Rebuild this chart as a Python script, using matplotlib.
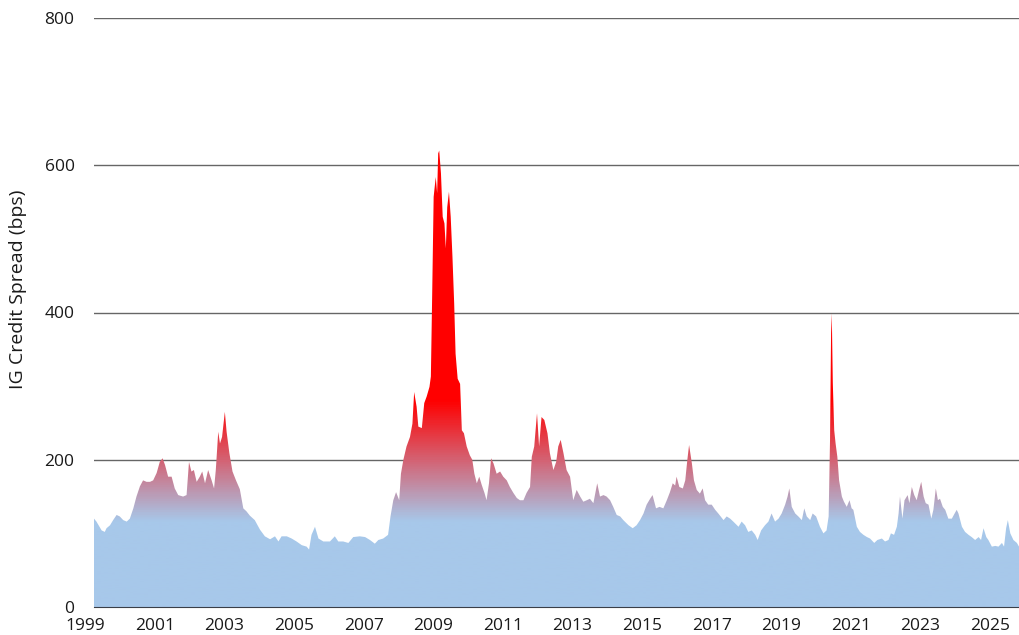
import numpy as np
import matplotlib.pyplot as plt
from matplotlib import transforms
from matplotlib.colors import LinearSegmentedColormap
from matplotlib.patches import PathPatch

plt.rcParams['font.family'] = ['Open Sans', 'DejaVu Sans']

# IG credit spread (bps)
years = [
    1999.25, 1999.32, 1999.47, 1999.56, 1999.61, 1999.71, 1999.80, 1999.90, 1999.99,
    2000.09, 2000.19, 2000.28, 2000.38, 2000.47, 2000.57, 2000.66, 2000.76, 2000.86, 2000.95,
    2001.05, 2001.14, 2001.22, 2001.29, 2001.38, 2001.48, 2001.57, 2001.67, 2001.81, 2001.91, 2001.98,
    2002.05, 2002.12, 2002.20, 2002.29, 2002.36, 2002.44, 2002.53, 2002.63, 2002.70, 2002.75, 2002.82, 2002.87, 2002.93,
    2003.01, 2003.06, 2003.14, 2003.23, 2003.33, 2003.44, 2003.54, 2003.63, 2003.73, 2003.87,
    2004.02, 2004.16, 2004.31, 2004.45, 2004.55, 2004.64, 2004.79, 2004.93,
    2005.07, 2005.22, 2005.36, 2005.43, 2005.50, 2005.60, 2005.70, 2005.84,
    2006.03, 2006.17, 2006.27, 2006.41, 2006.56, 2006.70, 2006.89,
    2007.04, 2007.18, 2007.32, 2007.42, 2007.56, 2007.70, 2007.77, 2007.85, 2007.93,
    2008.02, 2008.07, 2008.14, 2008.23, 2008.33, 2008.40, 2008.45, 2008.52, 2008.57, 2008.67, 2008.74, 2008.81, 2008.89, 2008.93, 2008.97,
    2009.01, 2009.07, 2009.11, 2009.14, 2009.17, 2009.22, 2009.27, 2009.32, 2009.36, 2009.40, 2009.45, 2009.50, 2009.55, 2009.60, 2009.64, 2009.70, 2009.77, 2009.82, 2009.88, 2009.96,
    2010.05, 2010.12, 2010.18, 2010.25, 2010.32, 2010.39, 2010.47, 2010.53, 2010.60, 2010.66, 2010.73, 2010.82, 2010.92,
    2011.01, 2011.11, 2011.20, 2011.30, 2011.40, 2011.49, 2011.59, 2011.68, 2011.78, 2011.83, 2011.90, 2011.98,
    2012.04, 2012.11, 2012.19, 2012.28, 2012.35, 2012.45, 2012.53, 2012.59, 2012.66, 2012.74, 2012.83, 2012.93,
    2013.02, 2013.12, 2013.22, 2013.31, 2013.41, 2013.50, 2013.60, 2013.71, 2013.79, 2013.89, 2013.98,
    2014.08, 2014.17, 2014.27, 2014.37, 2014.46, 2014.61, 2014.73, 2014.84, 2014.94,
    2015.04, 2015.13, 2015.23, 2015.30, 2015.40, 2015.50, 2015.61, 2015.71, 2015.80, 2015.88, 2015.95, 2015.99,
    2016.07, 2016.17, 2016.24, 2016.30, 2016.35, 2016.43, 2016.49, 2016.57, 2016.66, 2016.74, 2016.81, 2016.90,
    2017.00, 2017.10, 2017.19, 2017.34, 2017.43, 2017.53, 2017.62, 2017.77, 2017.86, 2017.96,
    2018.05, 2018.15, 2018.25, 2018.32, 2018.42, 2018.53, 2018.63, 2018.72, 2018.82, 2018.92,
    2019.01, 2019.11, 2019.18, 2019.23, 2019.30, 2019.40, 2019.49, 2019.59, 2019.66, 2019.73, 2019.83, 2019.90,
    2020.00, 2020.11, 2020.21, 2020.30, 2020.36, 2020.40, 2020.43, 2020.45, 2020.48, 2020.52, 2020.56, 2020.61, 2020.66, 2020.74, 2020.80, 2020.88, 2020.96,
    2021.02, 2021.07, 2021.17, 2021.26, 2021.36, 2021.46, 2021.55, 2021.67, 2021.76, 2021.89, 2021.98,
    2022.08, 2022.15, 2022.24, 2022.32, 2022.37, 2022.41, 2022.48, 2022.54, 2022.63, 2022.68, 2022.75, 2022.82, 2022.89, 2022.96,
    2023.02, 2023.09, 2023.15, 2023.23, 2023.31, 2023.37, 2023.44, 2023.50, 2023.56, 2023.64, 2023.71, 2023.80, 2023.90, 2023.98,
    2024.04, 2024.09, 2024.19, 2024.28, 2024.38, 2024.47, 2024.57, 2024.67, 2024.74, 2024.81, 2024.89, 2024.95,
    2025.05, 2025.15, 2025.24, 2025.34, 2025.40, 2025.46, 2025.51, 2025.58, 2025.67, 2025.77, 2025.83,
]
spread = [
    120, 116, 104, 102, 107, 111, 118, 125, 123,
    118, 116, 120, 134, 150, 164, 172, 170, 170, 172,
    182, 197, 202, 193, 177, 177, 161, 152, 150, 152, 197,
    184, 186, 170, 177, 184, 168, 186, 172, 161, 186, 238, 222, 231,
    265, 238, 209, 184, 172, 160, 134, 130, 124, 118,
    105, 96, 92, 96, 89, 96, 96, 93,
    89, 84, 82, 78, 98, 109, 93, 89,
    89, 96, 89, 89, 87, 95, 96,
    95, 91, 86, 91, 93, 98, 123, 145, 156,
    145, 181, 200, 218, 231, 249, 292, 272, 245, 243, 277, 286, 299, 313, 431,
    557, 584, 562, 616, 620, 589, 530, 521, 487, 543, 564, 530, 476, 412, 344, 310, 303, 240, 236, 218,
    206, 200, 181, 168, 177, 166, 155, 145, 168, 202, 195, 181, 184,
    177, 172, 163, 155, 148, 145, 145, 155, 163, 204, 218, 263,
    218, 258, 254, 236, 209, 186, 197, 218, 227, 209, 186, 177,
    145, 159, 150, 143, 145, 147, 141, 168, 150, 152, 150,
    145, 136, 125, 123, 118, 111, 107, 111, 118,
    127, 139, 147, 152, 134, 136, 134, 145, 156, 168, 165, 177,
    163, 161, 172, 200, 220, 195, 172, 159, 154, 161, 145, 139,
    139, 132, 127, 118, 123, 120, 116, 109, 116, 111,
    102, 104, 98, 91, 104, 111, 116, 127, 116, 120,
    127, 139, 150, 161, 136, 127, 123, 118, 134, 123, 118, 127,
    123, 109, 100, 104, 123, 227, 372, 399, 304, 240, 222, 204, 172, 150, 143, 136, 145,
    134, 132, 109, 102, 98, 95, 93, 87, 91, 93, 89,
    91, 100, 98, 109, 127, 150, 120, 145, 152, 141, 163, 152, 145, 159,
    170, 150, 141, 139, 120, 132, 161, 145, 147, 136, 132, 120, 120, 127,
    132, 127, 109, 102, 98, 95, 91, 95, 91, 107, 95, 91,
    82, 83, 82, 87, 82, 107, 118, 100, 91, 87, 82,
]
y_ticks = [0, 200, 400, 600, 800]
x_ticks = list(range(2001, 2026, 2))

x0, x1 = 1999.25, 2025.83

fig = plt.figure(figsize=(10.19, 6.35), dpi=100)
ax = fig.add_axes([94 / 1019, 28 / 635, 925 / 1019, 589 / 635])

# colour follows the spread level: blue when tight, red when wide
cmap = LinearSegmentedColormap.from_list(
    'spread', [(0, '#a7c8ea'), (115 / 800, '#a7c8ea'), (280 / 800, '#ff0000'), (1, '#ff0000')])

area = ax.fill_between(years, spread, 0, facecolor='none', edgecolor='none')
clip = PathPatch(area.get_paths()[0], transform=ax.transData, facecolor='none', edgecolor='none')
ax.add_patch(clip)
grad = np.linspace(0, 800, 801).reshape(-1, 1)
im = ax.imshow(grad, extent=[x0, x1, 0, 800], origin='lower', aspect='auto',
               cmap=cmap, vmin=0, vmax=800, zorder=1, interpolation='bilinear')
im.set_clip_path(clip)

ax.set_xlim(x0, x1)
ax.set_ylim(0, 800)
ax.set_yticks(y_ticks)
ax.set_xticks(x_ticks)
ax.set_xticklabels([str(y) for y in x_ticks])
ax.set_axisbelow(True)
ax.grid(axis='y', color='#666666', linewidth=1)
ax.grid(axis='x', visible=False)
for s in ['top', 'right', 'left']:
    ax.spines[s].set_visible(False)
ax.spines['bottom'].set_color('#3a3f48')
ax.spines['bottom'].set_zorder(3)
ax.tick_params(axis='both', length=0, labelsize=12.5, colors='#1a1a1a')
ax.tick_params(axis='y', pad=14)
ax.tick_params(axis='x', pad=8)

# 1999 sits just left of where the data starts
trans = transforms.offset_copy(ax.get_xaxis_transform(), fig=fig, y=-8, units='points')
ax.text(1999, 0, '1999', transform=trans, ha='center', va='top', fontsize=12.5,
        color='#1a1a1a', clip_on=False)

ax.set_ylabel('IG Credit Spread (bps)', fontsize=14, color='#1a1a1a')
ax.yaxis.label.set_va('center')
ax.yaxis.set_label_coords(-0.082, 0.54)

fig.savefig('out.png', dpi=100)
